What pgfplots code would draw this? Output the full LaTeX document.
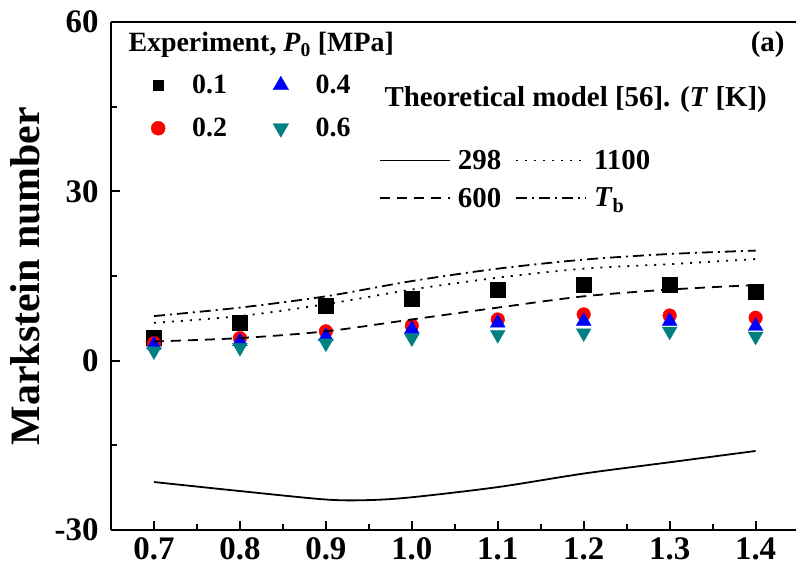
\documentclass[border=0pt]{standalone}
\usepackage{fontspec}
\setmainfont{Liberation Serif}
\usepackage{pgfplots}
\pgfplotsset{compat=1.18}
\definecolor{myteal}{RGB}{0,128,128}
\begin{document}
\begin{tikzpicture}
\pgfplotsset{
  common/.style={scale only axis, width=685bp, height=508bp,
    xmin=0.65, xmax=1.447, ymin=-30, ymax=60},
}
\begin{axis}[common,
  axis x line*=box, axis y line*=left,
  axis line style={line width=2.2bp},
  xtick={0.7,0.8,0.9,1.0,1.1,1.2,1.3,1.4},
  xticklabels={0.7,0.8,0.9,1.0,1.1,1.2,1.3,1.4},
  ytick={-30,0,30,60},
  minor x tick num=1, minor y tick num=1,
  xtick pos=bottom, ytick pos=left,
  tick align=inside,
  major tick length=9bp, minor tick length=6bp,
  every tick/.style={black, line width=2bp},
  /pgf/number format/assume math mode=true,
  tick label style={font=\fontsize{33}{33}\selectfont\bfseries},
  xticklabel style={yshift=-4bp},
  yticklabel style={xshift=-9bp},
  ylabel={Markstein number},
  ylabel style={at={(axis description cs:-0.125,0.5)}, anchor=center, font=\fontsize{42}{42}\selectfont\bfseries},
  legend columns=2, transpose legend,
  legend image code/.code={\draw[#1] plot coordinates {(8bp,0bp)};},
  legend style={at={(axis description cs:0,1)}, anchor=north west, xshift=37bp, yshift=-49bp,
    draw=none, fill=none, font=\fontsize{28}{30}\selectfont\bfseries, row sep=19bp,
    /tikz/every odd column/.append style={column sep=25bp},
    /tikz/every even column/.append style={column sep=44bp}},
  legend cell align=left,
  clip=false,
]
\addplot[only marks, mark=square*, mark size=7.5bp, black, legend image post style={mark size=5bp}] coordinates {
(0.7,4.0) (0.8,6.7) (0.9,9.7) (1.0,11.0) (1.1,12.5) (1.2,13.4) (1.3,13.5) (1.4,12.3)};
\addlegendentry{0.1}
\addplot[only marks, mark=*, mark size=6.8bp, red, legend image post style={mark size=7bp}] coordinates {
(0.7,3.1) (0.8,4.0) (0.9,5.2) (1.0,6.2) (1.1,7.3) (1.2,8.2) (1.3,8.0) (1.4,7.6)};
\addlegendentry{0.2}
\addplot[only marks, mark=triangle*, mark size=8.5bp, blue, legend image post style={mark size=9bp}] coordinates {
(0.7,2.8) (0.8,3.4) (0.9,4.3) (1.0,5.6) (1.1,6.7) (1.2,7.0) (1.3,7.0) (1.4,6.1)};
\addlegendentry{0.4}
\addplot[only marks, mark=triangle*, mark options={rotate=180}, mark size=8.5bp, myteal, legend image post style={mark size=9bp}] coordinates {
(0.7,1.7) (0.8,2.3) (0.9,3.1) (1.0,4.0) (1.1,4.6) (1.2,4.9) (1.3,5.2) (1.4,4.3)};
\addlegendentry{0.6}
\node[anchor=west, font=\fontsize{28}{30}\selectfont\bfseries] at ([xshift=14bp,yshift=-23bp]rel axis cs:0,1) {Experiment, \textit{P}\textsubscript{0} [MPa]};
\node[anchor=east, font=\fontsize{29}{30}\selectfont\bfseries] at ([xshift=-8bp,yshift=-23bp]rel axis cs:1,1) {(a)};
\node[anchor=west, font=\fontsize{29}{30}\selectfont\bfseries] at ([xshift=270bp,yshift=-78bp]rel axis cs:0,1) {Theoretical model [56]. (\textit{T} [K])};
\coordinate (ll) at (rel axis cs:0,0);
\coordinate (ur) at (rel axis cs:1,1);
\end{axis}
\begin{axis}[common, hide axis,
  legend columns=2, transpose legend,
  legend style={at={(axis description cs:0,1)}, anchor=north west, xshift=265bp, yshift=-124bp,
    draw=none, fill=none, font=\fontsize{29}{30}\selectfont\bfseries, row sep=13bp,
    /tikz/every odd column/.append style={column sep=5bp},
    /tikz/every even column/.append style={column sep=12bp}},
  legend image code/.code={\draw[#1] (0bp,0bp) -- (70bp,0bp);},
  legend cell align=left,
]
\addplot[black, line width=1.8bp, smooth] coordinates {
(0.7,-21.5) (0.8,-23.1) (0.9,-24.6) (0.95,-24.7) (1.0,-24.2) (1.1,-22.4) (1.2,-20.0) (1.3,-18.0) (1.4,-16.0)};
\addlegendentry{298}
\addplot[black, line width=1.8bp, smooth, dash pattern=on 10bp off 7bp] coordinates {
(0.7,3.4) (0.8,4.0) (0.9,5.2) (1.0,7.3) (1.1,9.4) (1.2,11.4) (1.3,12.6) (1.4,13.4)};
\addlegendentry{600}
\addplot[black, line width=1.8bp, smooth, dash pattern=on 2bp off 7bp] coordinates {
(0.7,6.7) (0.8,7.9) (0.9,10.0) (1.0,12.6) (1.1,14.7) (1.2,16.3) (1.3,17.1) (1.4,18.0)};
\addlegendentry{1100}
\addplot[black, line width=1.8bp, smooth, dash pattern=on 11bp off 5bp on 2bp off 5bp] coordinates {
(0.7,7.9) (0.8,9.4) (0.9,11.4) (1.0,14.1) (1.1,16.3) (1.2,17.9) (1.3,18.9) (1.4,19.5)};
\addlegendentry{\textit{T}\textsubscript{b}}
\end{axis}
\pgfresetboundingbox
\path ([shift={(-111bp,-44bp)}]ll) rectangle ([shift={(0bp,22bp)}]ur);
\end{tikzpicture}
\end{document}
